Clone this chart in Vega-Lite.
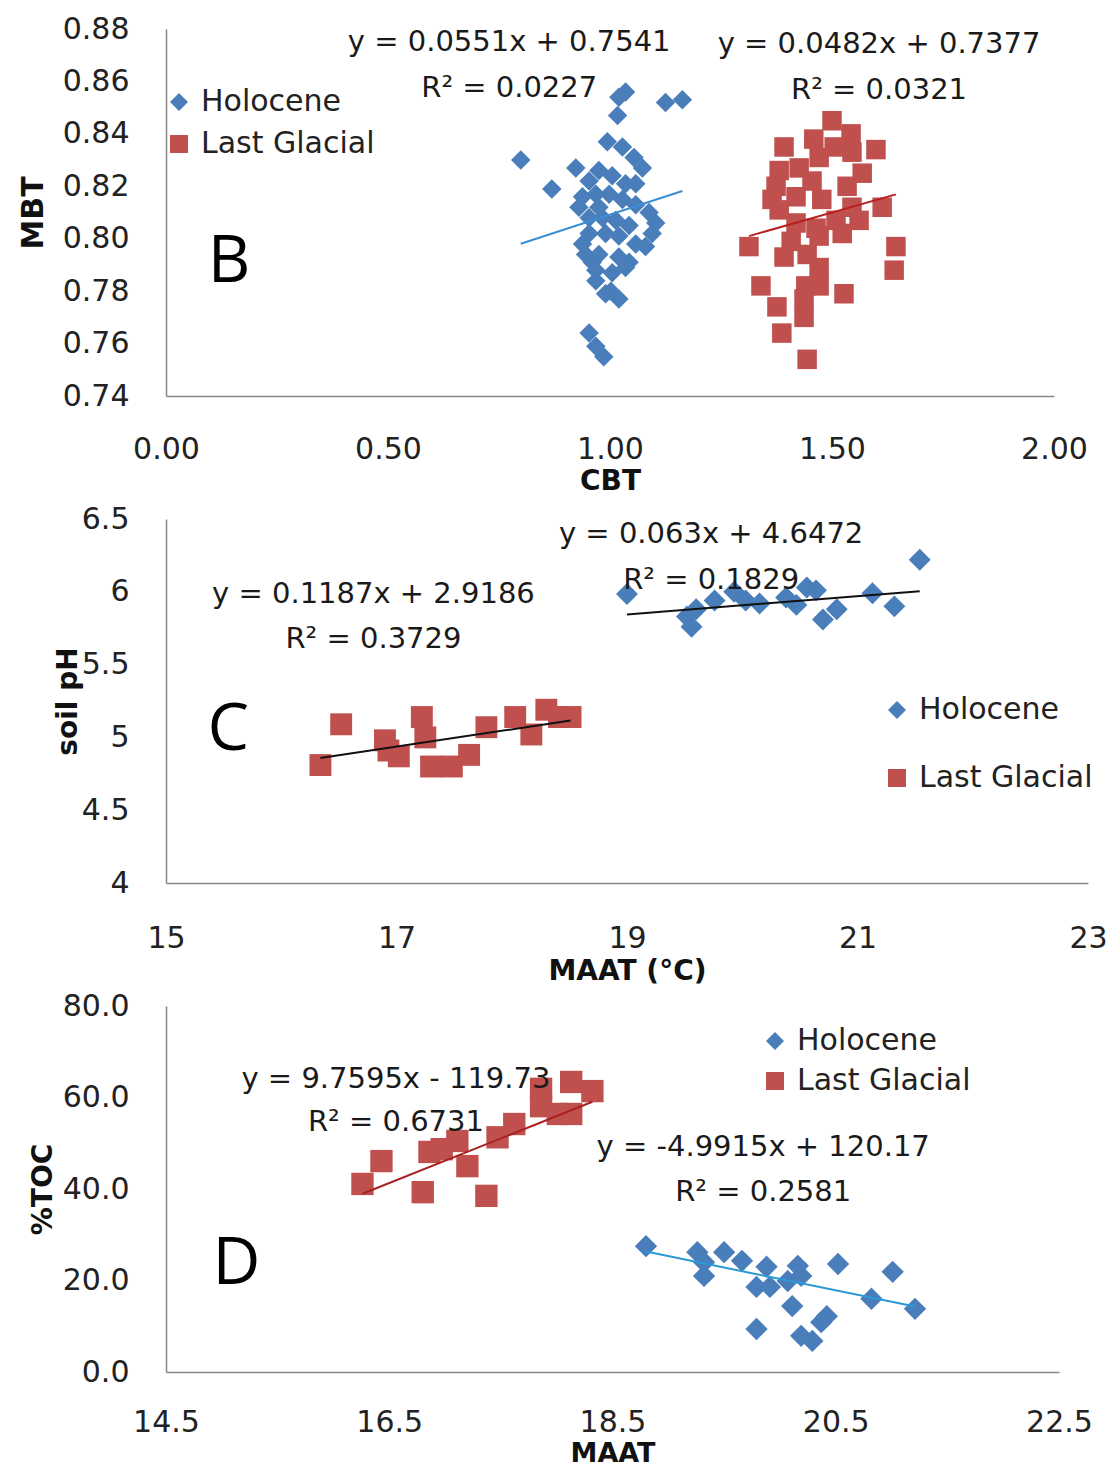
{
  "$schema": "https://vega.github.io/schema/vega-lite/v6.json",
  "background": "white",
  "padding": {"left": 18, "top": 14, "right": 5, "bottom": 1},
  "bounds": "flush",
  "spacing": 123,
  "resolve": {
    "scale": {"color": "independent", "shape": "independent"},
    "legend": {"color": "independent", "shape": "independent"}
  },
  "config": {
    "view": {"stroke": null},
    "axis": {
      "domainColor": "#888888", "domainWidth": 1.5, "ticks": false, "tickSize": 0, "grid": false,
      "labelFont": "DejaVu Sans", "labelFontSize": 30, "labelColor": "#222222",
      "labelOverlap": false, "labelFlush": false, "labelBound": false, "labelPadding": 37,
      "titleFont": "DejaVu Sans", "titleFontWeight": "bold", "titleFontSize": 28, "titleColor": "#111111"
    },
    "legend": {
      "orient": "none", "title": null, "padding": 0, "symbolSize": 324, "symbolStrokeWidth": 0,
      "labelFont": "DejaVu Sans", "labelFontSize": 30, "labelColor": "#222222", "labelLimit": 0, "labelOffset": 7
    },
    "text": {"font": "DejaVu Sans", "fontSize": 29, "color": "#1a1a1a", "align": "center", "baseline": "middle"}
  },
  "datasets": {
    "bPoints": [
      {"x": 0.799, "y": 0.830, "period": "Holocene"}, {"x": 0.869, "y": 0.819, "period": "Holocene"},
      {"x": 1.035, "y": 0.856, "period": "Holocene"}, {"x": 1.020, "y": 0.854, "period": "Holocene"},
      {"x": 1.017, "y": 0.847, "period": "Holocene"}, {"x": 1.125, "y": 0.852, "period": "Holocene"},
      {"x": 1.163, "y": 0.853, "period": "Holocene"}, {"x": 0.994, "y": 0.837, "period": "Holocene"},
      {"x": 1.028, "y": 0.835, "period": "Holocene"}, {"x": 1.054, "y": 0.831, "period": "Holocene"},
      {"x": 1.073, "y": 0.827, "period": "Holocene"}, {"x": 0.923, "y": 0.827, "period": "Holocene"},
      {"x": 0.953, "y": 0.822, "period": "Holocene"}, {"x": 0.975, "y": 0.826, "period": "Holocene"},
      {"x": 1.005, "y": 0.824, "period": "Holocene"}, {"x": 0.938, "y": 0.816, "period": "Holocene"},
      {"x": 0.968, "y": 0.817, "period": "Holocene"}, {"x": 0.998, "y": 0.817, "period": "Holocene"},
      {"x": 1.028, "y": 0.815, "period": "Holocene"}, {"x": 1.058, "y": 0.813, "period": "Holocene"},
      {"x": 1.088, "y": 0.810, "period": "Holocene"}, {"x": 1.103, "y": 0.806, "period": "Holocene"},
      {"x": 1.095, "y": 0.802, "period": "Holocene"}, {"x": 1.080, "y": 0.797, "period": "Holocene"},
      {"x": 1.058, "y": 0.798, "period": "Holocene"}, {"x": 0.953, "y": 0.808, "period": "Holocene"},
      {"x": 0.983, "y": 0.808, "period": "Holocene"}, {"x": 1.013, "y": 0.807, "period": "Holocene"},
      {"x": 0.953, "y": 0.802, "period": "Holocene"}, {"x": 0.990, "y": 0.802, "period": "Holocene"},
      {"x": 1.020, "y": 0.801, "period": "Holocene"}, {"x": 0.945, "y": 0.794, "period": "Holocene"},
      {"x": 0.975, "y": 0.794, "period": "Holocene"}, {"x": 1.020, "y": 0.793, "period": "Holocene"},
      {"x": 1.043, "y": 0.791, "period": "Holocene"}, {"x": 0.968, "y": 0.788, "period": "Holocene"},
      {"x": 1.005, "y": 0.787, "period": "Holocene"}, {"x": 1.035, "y": 0.789, "period": "Holocene"},
      {"x": 0.968, "y": 0.784, "period": "Holocene"}, {"x": 0.990, "y": 0.779, "period": "Holocene"},
      {"x": 1.020, "y": 0.777, "period": "Holocene"}, {"x": 1.002, "y": 0.780, "period": "Holocene"},
      {"x": 0.953, "y": 0.764, "period": "Holocene"}, {"x": 0.968, "y": 0.759, "period": "Holocene"},
      {"x": 0.986, "y": 0.755, "period": "Holocene"}, {"x": 0.930, "y": 0.812, "period": "Holocene"},
      {"x": 0.975, "y": 0.812, "period": "Holocene"}, {"x": 1.035, "y": 0.821, "period": "Holocene"},
      {"x": 1.058, "y": 0.821, "period": "Holocene"}, {"x": 0.938, "y": 0.798, "period": "Holocene"},
      {"x": 1.043, "y": 0.805, "period": "Holocene"}, {"x": 0.960, "y": 0.791, "period": "Holocene"},
      {"x": 1.500, "y": 0.845, "period": "Last Glacial"}, {"x": 1.459, "y": 0.838, "period": "Last Glacial"},
      {"x": 1.543, "y": 0.840, "period": "Last Glacial"}, {"x": 1.392, "y": 0.835, "period": "Last Glacial"},
      {"x": 1.599, "y": 0.834, "period": "Last Glacial"}, {"x": 1.471, "y": 0.831, "period": "Last Glacial"},
      {"x": 1.505, "y": 0.835, "period": "Last Glacial"}, {"x": 1.545, "y": 0.833, "period": "Last Glacial"},
      {"x": 1.381, "y": 0.826, "period": "Last Glacial"}, {"x": 1.426, "y": 0.827, "period": "Last Glacial"},
      {"x": 1.455, "y": 0.822, "period": "Last Glacial"}, {"x": 1.568, "y": 0.825, "period": "Last Glacial"},
      {"x": 1.374, "y": 0.820, "period": "Last Glacial"}, {"x": 1.534, "y": 0.820, "period": "Last Glacial"},
      {"x": 1.365, "y": 0.815, "period": "Last Glacial"}, {"x": 1.419, "y": 0.816, "period": "Last Glacial"},
      {"x": 1.477, "y": 0.815, "period": "Last Glacial"}, {"x": 1.381, "y": 0.811, "period": "Last Glacial"},
      {"x": 1.545, "y": 0.812, "period": "Last Glacial"}, {"x": 1.613, "y": 0.812, "period": "Last Glacial"},
      {"x": 1.509, "y": 0.807, "period": "Last Glacial"}, {"x": 1.561, "y": 0.807, "period": "Last Glacial"},
      {"x": 1.419, "y": 0.806, "period": "Last Glacial"}, {"x": 1.464, "y": 0.804, "period": "Last Glacial"},
      {"x": 1.313, "y": 0.797, "period": "Last Glacial"}, {"x": 1.408, "y": 0.799, "period": "Last Glacial"},
      {"x": 1.471, "y": 0.801, "period": "Last Glacial"}, {"x": 1.523, "y": 0.802, "period": "Last Glacial"},
      {"x": 1.644, "y": 0.797, "period": "Last Glacial"}, {"x": 1.392, "y": 0.793, "period": "Last Glacial"},
      {"x": 1.444, "y": 0.794, "period": "Last Glacial"}, {"x": 1.471, "y": 0.789, "period": "Last Glacial"},
      {"x": 1.640, "y": 0.788, "period": "Last Glacial"}, {"x": 1.340, "y": 0.782, "period": "Last Glacial"},
      {"x": 1.441, "y": 0.782, "period": "Last Glacial"}, {"x": 1.471, "y": 0.782, "period": "Last Glacial"},
      {"x": 1.527, "y": 0.779, "period": "Last Glacial"}, {"x": 1.376, "y": 0.774, "period": "Last Glacial"},
      {"x": 1.437, "y": 0.777, "period": "Last Glacial"}, {"x": 1.437, "y": 0.770, "period": "Last Glacial"},
      {"x": 1.387, "y": 0.764, "period": "Last Glacial"}, {"x": 1.444, "y": 0.754, "period": "Last Glacial"}
    ],
    "cPoints": [
      {"x": 19.00, "y": 5.985, "period": "Holocene"}, {"x": 19.52, "y": 5.83, "period": "Holocene"},
      {"x": 19.56, "y": 5.76, "period": "Holocene"}, {"x": 19.60, "y": 5.88, "period": "Holocene"},
      {"x": 19.76, "y": 5.94, "period": "Holocene"}, {"x": 19.93, "y": 6.00, "period": "Holocene"},
      {"x": 20.03, "y": 5.94, "period": "Holocene"}, {"x": 20.15, "y": 5.92, "period": "Holocene"},
      {"x": 20.38, "y": 5.96, "period": "Holocene"}, {"x": 20.47, "y": 5.91, "period": "Holocene"},
      {"x": 20.56, "y": 6.03, "period": "Holocene"}, {"x": 20.64, "y": 6.01, "period": "Holocene"},
      {"x": 20.70, "y": 5.81, "period": "Holocene"}, {"x": 20.82, "y": 5.88, "period": "Holocene"},
      {"x": 21.13, "y": 5.99, "period": "Holocene"}, {"x": 21.32, "y": 5.90, "period": "Holocene"},
      {"x": 21.54, "y": 6.22, "period": "Holocene"},
      {"x": 16.34, "y": 4.81, "period": "Last Glacial"}, {"x": 16.52, "y": 5.09, "period": "Last Glacial"},
      {"x": 16.90, "y": 4.98, "period": "Last Glacial"}, {"x": 16.93, "y": 4.91, "period": "Last Glacial"},
      {"x": 17.02, "y": 4.87, "period": "Last Glacial"}, {"x": 17.22, "y": 5.14, "period": "Last Glacial"},
      {"x": 17.25, "y": 5.00, "period": "Last Glacial"}, {"x": 17.30, "y": 4.80, "period": "Last Glacial"},
      {"x": 17.48, "y": 4.80, "period": "Last Glacial"}, {"x": 17.63, "y": 4.88, "period": "Last Glacial"},
      {"x": 17.78, "y": 5.07, "period": "Last Glacial"}, {"x": 18.03, "y": 5.14, "period": "Last Glacial"},
      {"x": 18.17, "y": 5.02, "period": "Last Glacial"}, {"x": 18.30, "y": 5.19, "period": "Last Glacial"},
      {"x": 18.41, "y": 5.14, "period": "Last Glacial"}, {"x": 18.51, "y": 5.14, "period": "Last Glacial"}
    ],
    "dPoints": [
      {"x": 18.80, "y": 27.5, "period": "Holocene"}, {"x": 19.26, "y": 26.2, "period": "Holocene"},
      {"x": 19.32, "y": 24.0, "period": "Holocene"}, {"x": 19.32, "y": 21.0, "period": "Holocene"},
      {"x": 19.50, "y": 26.2, "period": "Holocene"}, {"x": 19.66, "y": 24.3, "period": "Holocene"},
      {"x": 19.79, "y": 9.4, "period": "Holocene"}, {"x": 19.79, "y": 18.6, "period": "Holocene"},
      {"x": 19.88, "y": 23.0, "period": "Holocene"}, {"x": 19.91, "y": 18.6, "period": "Holocene"},
      {"x": 20.11, "y": 14.4, "period": "Holocene"}, {"x": 20.07, "y": 19.9, "period": "Holocene"},
      {"x": 20.16, "y": 23.2, "period": "Holocene"}, {"x": 20.19, "y": 21.0, "period": "Holocene"},
      {"x": 20.19, "y": 7.9, "period": "Holocene"}, {"x": 20.29, "y": 6.8, "period": "Holocene"},
      {"x": 20.37, "y": 10.9, "period": "Holocene"}, {"x": 20.42, "y": 12.2, "period": "Holocene"},
      {"x": 20.52, "y": 23.6, "period": "Holocene"}, {"x": 20.82, "y": 16.0, "period": "Holocene"},
      {"x": 21.01, "y": 21.9, "period": "Holocene"}, {"x": 21.21, "y": 13.8, "period": "Holocene"},
      {"x": 16.26, "y": 41.1, "period": "Last Glacial"}, {"x": 16.43, "y": 46.1, "period": "Last Glacial"},
      {"x": 16.80, "y": 39.3, "period": "Last Glacial"}, {"x": 16.86, "y": 48.1, "period": "Last Glacial"},
      {"x": 16.97, "y": 48.7, "period": "Last Glacial"}, {"x": 17.11, "y": 50.5, "period": "Last Glacial"},
      {"x": 17.20, "y": 45.0, "period": "Last Glacial"}, {"x": 17.37, "y": 38.5, "period": "Last Glacial"},
      {"x": 17.47, "y": 51.3, "period": "Last Glacial"}, {"x": 17.62, "y": 54.2, "period": "Last Glacial"},
      {"x": 17.86, "y": 61.9, "period": "Last Glacial"}, {"x": 17.86, "y": 58.1, "period": "Last Glacial"},
      {"x": 18.13, "y": 63.4, "period": "Last Glacial"}, {"x": 18.01, "y": 56.4, "period": "Last Glacial"},
      {"x": 18.13, "y": 56.4, "period": "Last Glacial"}, {"x": 18.32, "y": 61.4, "period": "Last Glacial"}
    ]
  },
  "vconcat": [
    {
      "width": 888, "height": 367,
      "layer": [
        {
          "data": {"name": "bPoints"},
          "mark": {"type": "point", "filled": true, "opacity": 1, "size": 380},
          "encoding": {
            "x": {"field": "x", "type": "quantitative", "scale": {"domain": [0, 2], "nice": false, "zero": false},
                  "axis": {"values": [0, 0.5, 1, 1.5, 2], "format": ".2f", "title": "CBT", "labelPadding": 38, "titlePadding": 3}},
            "y": {"field": "y", "type": "quantitative", "scale": {"domain": [0.74, 0.88], "nice": false, "zero": false},
                  "axis": {"values": [0.74, 0.76, 0.78, 0.8, 0.82, 0.84, 0.86, 0.88], "format": ".2f", "title": "MBT", "titleFontSize": 30, "titlePadding": 14}},
            "color": {"field": "period", "type": "nominal", "scale": {"domain": ["Holocene", "Last Glacial"], "range": ["#4A7EBB", "#C0504D"]},
                      "legend": {"legendX": -2, "legendY": 58, "rowPadding": 12}},
            "shape": {"field": "period", "type": "nominal", "scale": {"domain": ["Holocene", "Last Glacial"], "range": ["diamond", "square"]},
                      "legend": {"legendX": -2, "legendY": 58, "rowPadding": 12}}
          }
        },
        {
          "data": {"values": [{"x": 0.799, "y": 0.7981, "x2": 1.163, "y2": 0.8182}]},
          "mark": {"type": "rule", "color": "#3B8ED4", "strokeWidth": 2},
          "encoding": {"x": {"field": "x", "type": "quantitative"}, "y": {"field": "y", "type": "quantitative"}, "x2": {"field": "x2"}, "y2": {"field": "y2"}}
        },
        {
          "data": {"values": [{"x": 1.313, "y": 0.8010, "x2": 1.644, "y2": 0.8169}]},
          "mark": {"type": "rule", "color": "#B82020", "strokeWidth": 2},
          "encoding": {"x": {"field": "x", "type": "quantitative"}, "y": {"field": "y", "type": "quantitative"}, "x2": {"field": "x2"}, "y2": {"field": "y2"}}
        },
        {
          "data": {"values": [
            {"x": 0.773, "y": 0.8750, "label": "y = 0.0551x + 0.7541"},
            {"x": 0.773, "y": 0.8575, "label": "R² = 0.0227"},
            {"x": 1.606, "y": 0.8743, "label": "y = 0.0482x + 0.7377"},
            {"x": 1.606, "y": 0.8567, "label": "R² = 0.0321"}
          ]},
          "mark": {"type": "text"},
          "encoding": {"x": {"field": "x", "type": "quantitative"}, "y": {"field": "y", "type": "quantitative"}, "text": {"field": "label"}}
        },
        {
          "data": {"values": [{"x": 0.142, "y": 0.791, "label": "B"}]},
          "mark": {"type": "text", "font": "Open Sans", "fontSize": 66, "color": "#000000"},
          "encoding": {"x": {"field": "x", "type": "quantitative"}, "y": {"field": "y", "type": "quantitative"}, "text": {"field": "label"}}
        }
      ]
    },
    {
      "width": 922, "height": 364,
      "layer": [
        {
          "data": {"name": "cPoints"},
          "mark": {"type": "point", "filled": true, "opacity": 1, "size": 480},
          "encoding": {
            "x": {"field": "x", "type": "quantitative", "scale": {"domain": [15, 23], "nice": false, "zero": false},
                  "axis": {"values": [15, 17, 19, 21, 23], "format": "d", "title": "MAAT (°C)", "labelPadding": 40, "titlePadding": 4}},
            "y": {"field": "y", "type": "quantitative", "scale": {"domain": [4, 6.5], "nice": false, "zero": false},
                  "axis": {"values": [4, 4.5, 5, 5.5, 6, 6.5], "format": "~g", "title": "soil  pH", "titlePadding": -1}},
            "color": {"field": "period", "type": "nominal", "scale": {"domain": ["Holocene", "Last Glacial"], "range": ["#4A7EBB", "#C0504D"]},
                      "legend": {"legendX": 716, "legendY": 176, "rowPadding": 38}},
            "shape": {"field": "period", "type": "nominal", "scale": {"domain": ["Holocene", "Last Glacial"], "range": ["diamond", "square"]},
                      "legend": {"legendX": 716, "legendY": 176, "rowPadding": 38}}
          }
        },
        {
          "data": {"values": [{"x": 19.0, "y": 5.844, "x2": 21.54, "y2": 6.004}, {"x": 16.34, "y": 4.858, "x2": 18.51, "y2": 5.116}]},
          "mark": {"type": "rule", "color": "#111111", "strokeWidth": 2},
          "encoding": {"x": {"field": "x", "type": "quantitative"}, "y": {"field": "y", "type": "quantitative"}, "x2": {"field": "x2"}, "y2": {"field": "y2"}}
        },
        {
          "data": {"values": [
            {"x": 19.73, "y": 6.397, "label": "y = 0.063x + 4.6472"},
            {"x": 19.73, "y": 6.081, "label": "R² = 0.1829"},
            {"x": 16.80, "y": 5.985, "label": "y = 0.1187x + 2.9186"},
            {"x": 16.80, "y": 5.676, "label": "R² = 0.3729"}
          ]},
          "mark": {"type": "text"},
          "encoding": {"x": {"field": "x", "type": "quantitative"}, "y": {"field": "y", "type": "quantitative"}, "text": {"field": "label"}}
        },
        {
          "data": {"values": [{"x": 15.54, "y": 5.05, "label": "C"}]},
          "mark": {"type": "text", "font": "Open Sans", "fontSize": 66, "color": "#000000"},
          "encoding": {"x": {"field": "x", "type": "quantitative"}, "y": {"field": "y", "type": "quantitative"}, "text": {"field": "label"}}
        }
      ]
    },
    {
      "width": 893, "height": 366,
      "layer": [
        {
          "data": {"name": "dPoints"},
          "mark": {"type": "point", "filled": true, "opacity": 1, "size": 500},
          "encoding": {
            "x": {"field": "x", "type": "quantitative", "scale": {"domain": [14.5, 22.5], "nice": false, "zero": false},
                  "axis": {"values": [14.5, 16.5, 18.5, 20.5, 22.5], "format": ".1f", "title": "MAAT", "titleFontSize": 27, "labelPadding": 35, "titlePadding": 3}},
            "y": {"field": "y", "type": "quantitative", "scale": {"domain": [0, 80], "nice": false, "zero": false},
                  "axis": {"values": [0, 20, 40, 60, 80], "format": ".1f", "title": "%TOC", "titlePadding": 5}},
            "color": {"field": "period", "type": "nominal", "scale": {"domain": ["Holocene", "Last Glacial"], "range": ["#4A7EBB", "#C0504D"]},
                      "legend": {"legendX": 594, "legendY": 20, "rowPadding": 10}},
            "shape": {"field": "period", "type": "nominal", "scale": {"domain": ["Holocene", "Last Glacial"], "range": ["diamond", "square"]},
                      "legend": {"legendX": 594, "legendY": 20, "rowPadding": 10}}
          }
        },
        {
          "data": {"values": [{"x": 16.26, "y": 38.96, "x2": 18.32, "y2": 59.06}]},
          "mark": {"type": "rule", "color": "#A82222", "strokeWidth": 2},
          "encoding": {"x": {"field": "x", "type": "quantitative"}, "y": {"field": "y", "type": "quantitative"}, "x2": {"field": "x2"}, "y2": {"field": "y2"}}
        },
        {
          "data": {"values": [{"x": 18.80, "y": 26.33, "x2": 21.21, "y2": 14.30}]},
          "mark": {"type": "rule", "color": "#2A9AD4", "strokeWidth": 2},
          "encoding": {"x": {"field": "x", "type": "quantitative"}, "y": {"field": "y", "type": "quantitative"}, "x2": {"field": "x2"}, "y2": {"field": "y2"}}
        },
        {
          "data": {"values": [
            {"x": 16.56, "y": 64.0, "label": "y = 9.7595x - 119.73"},
            {"x": 16.56, "y": 54.6, "label": "R² = 0.6731"},
            {"x": 19.85, "y": 49.2, "label": "y = -4.9915x + 120.17"},
            {"x": 19.85, "y": 39.3, "label": "R² = 0.2581"}
          ]},
          "mark": {"type": "text"},
          "encoding": {"x": {"field": "x", "type": "quantitative"}, "y": {"field": "y", "type": "quantitative"}, "text": {"field": "label"}}
        },
        {
          "data": {"values": [{"x": 15.13, "y": 23.6, "label": "D"}]},
          "mark": {"type": "text", "font": "Open Sans", "fontSize": 66, "color": "#000000"},
          "encoding": {"x": {"field": "x", "type": "quantitative"}, "y": {"field": "y", "type": "quantitative"}, "text": {"field": "label"}}
        }
      ]
    }
  ]
}
